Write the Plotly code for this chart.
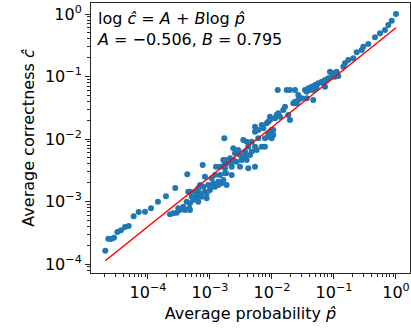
import numpy as np
import plotly.graph_objects as go

# Data, as log10 exponents of the axis values
log10_p = [
    -4.689, -4.640, -4.597, -4.548, -4.495, -4.435, -4.371, -4.311, -4.231, -4.150,
    -4.048, -3.952, -3.839, -3.710, -3.560, -3.366,
    -3.645, -3.592, -3.537, -3.484, -3.511, -3.431, -3.403, -3.323, -3.376, -3.323,
    -3.269, -3.189, -3.295, -3.215, -3.134, -3.323, -3.242, -3.161, -3.081, -3.000,
    -3.189, -3.108, -3.027, -2.947, -2.919, -2.866, -2.811, -2.731, -2.866, -2.785,
    -3.081, -2.973, -2.919, -2.839, -2.742, -3.118, -2.903, -2.769, -3.350, -3.053,
    -3.053, -2.973, -3.161, -2.758, -2.650, -3.334, -3.415,
    -2.839, -2.758, -2.650, -2.516, -2.274, -2.785, -2.731, -2.650, -2.569, -2.489,
    -2.677, -2.597, -2.516, -2.435, -2.355, -2.624, -2.544, -2.435, -2.327, -2.247,
    -2.382, -2.274, -2.166, -2.113, -2.463, -2.408, -2.327, -2.221, -2.113, -2.005,
    -2.769, -2.274, -2.060, -1.979, -2.274, -2.166, -2.140, -2.060, -2.032, -1.924,
    -2.624, -2.408, -2.382, -2.758,
    -2.085, -2.032, -1.952, -1.898, -1.871, -1.737, -1.710, -1.818, -1.790, -1.656,
    -1.602, -1.629, -1.576, -1.521, -1.440, -1.334, -1.576, -1.415, -1.360, -1.306,
    -1.253, -1.198, -1.145, -1.092, -1.037, -0.984, -1.065, -1.011, -0.956, -2.005,
    -1.979, -2.060, -2.221,
    -1.908, -1.763, -1.710, -1.629, -1.468, -1.387, -1.440, -1.334, -1.279,
    -0.931, -0.850, -0.823, -0.769, -0.689, -0.634, -0.553, -0.527, -0.447, -0.339,
    -0.258, -0.177, -0.124, -0.069, 0.000, -1.173, -1.118, -1.145,
]
log10_c = [
    -3.787, -3.595, -3.600, -3.579, -3.488, -3.461, -3.408, -3.392, -3.237, -3.168,
    -3.163, -3.109, -3.003, -2.917, -2.784, -2.565,
    -3.205, -3.189, -3.179, -3.136, -3.109, -3.083, -3.136, -3.136, -3.003, -3.029,
    -2.976, -3.003, -2.923, -2.923, -2.923, -2.843, -2.843, -2.869, -2.843, -2.816,
    -2.789, -2.763, -2.736, -2.709, -2.763, -2.736, -2.709, -2.736, -2.683, -2.656,
    -2.603, -2.629, -2.576, -2.576, -2.549, -2.416, -2.443, -2.416, -2.843, -2.949,
    -2.869, -2.763, -2.736, -2.549, -2.576, -3.109, -3.125,
    -2.443, -2.469, -2.443, -2.443, -2.443, -2.336, -2.389, -2.389, -2.363, -2.336,
    -2.309, -2.229, -2.256, -2.283, -2.256, -2.149, -2.176, -2.203, -2.203, -2.176,
    -2.123, -2.123, -2.123, -2.123, -2.016, -2.043, -2.043, -1.989, -1.989, -1.989,
    -1.989, -1.883, -1.909, -1.856, -1.803, -1.776, -1.829, -1.723, -1.643, -1.616,
    -2.336, -2.336, -2.469, -2.336,
    -1.749, -1.696, -1.669, -1.589, -1.643, -1.616, -1.696, -1.536, -1.483, -1.429,
    -1.429, -1.403, -1.376, -1.349, -1.349, -1.376, -1.296, -1.189, -1.163, -1.136,
    -1.109, -1.083, -1.056, -1.029, -1.003, -1.003, -0.923, -0.949, -0.923, -1.856,
    -1.936, -1.963, -1.856,
    -1.216, -1.216, -1.216, -1.216, -1.216, -1.216, -1.243, -1.216, -1.189,
    -0.992, -0.843, -0.789, -0.736, -0.709, -0.613, -0.576, -0.523, -0.480, -0.373,
    -0.309, -0.256, -0.176, -0.107, 0.000, -1.109, -1.056, -1.163,
]

A = -0.506
B = 0.795

x_tickvals = [1e-4, 1e-3, 1e-2, 1e-1, 1e0]
x_ticktext = ["10<sup>−4</sup>", "10<sup>−3</sup>", "10<sup>−2</sup>", "10<sup>−1</sup>", "10<sup>0</sup>"]
y_tickvals = [1e-4, 1e-3, 1e-2, 1e-1, 1e0]
y_ticktext = ["10<sup>−4</sup>", "10<sup>−3</sup>", "10<sup>−2</sup>", "10<sup>−1</sup>", "10<sup>0</sup>"]

p = 10 ** np.array(log10_p)
c = 10 ** np.array(log10_c)

# fitted line: log c = A + B log p (natural log)
p_line = np.array([p.min(), p.max()])
c_line = np.exp(A + B * np.log(p_line))

FONT = "DejaVu Sans"
FS = 16

fig = go.Figure()
fig.add_trace(go.Scatter(
    x=p, y=c, mode="markers",
    marker=dict(color="#1f77b4", size=6, line=dict(width=0)),
    showlegend=False,
))
fig.add_trace(go.Scatter(
    x=p_line, y=c_line, mode="lines",
    line=dict(color="red", width=1.5),
    showlegend=False,
))

axis_common = dict(
    type="log",
    showgrid=False, zeroline=False,
    showline=True, linecolor="#262626", linewidth=1, mirror=True,
    ticks="outside", ticklen=5, tickwidth=1, tickcolor="#262626",
    minor=dict(ticks="outside", ticklen=3, tickwidth=0.7, tickcolor="#262626",
               showgrid=False, dtick="D1"),
    tickfont=dict(family=FONT, size=FS, color="black"),
)

fig.update_layout(
    width=411, height=330,
    margin=dict(l=91, r=1, t=3, b=57),
    paper_bgcolor="white", plot_bgcolor="white",
    font=dict(family=FONT, size=FS, color="black"),
    xaxis=dict(
        range=[-4.919, 0.226],
        tickvals=x_tickvals, ticktext=x_ticktext,
        title=dict(text="Average probability <i>p̂</i>", font=dict(family=FONT, size=FS), standoff=6),
        **axis_common,
    ),
    yaxis=dict(
        range=[-4.144, 0.176],
        tickvals=y_tickvals, ticktext=y_ticktext,
        title=dict(text="Average correctness <i>ĉ</i>", font=dict(family=FONT, size=FS), standoff=6),
        **axis_common,
    ),
    annotations=[
        dict(
            xref="paper", yref="paper", x=0.012, y=0.985,
            xanchor="left", yanchor="top", align="left", showarrow=False,
            text="log <i>ĉ</i> = <i>A</i> + <i>B</i>log <i>p̂</i><br><i>A</i> = −0.506, <i>B</i> = 0.795",
            font=dict(family=FONT, size=FS, color="black"),
        )
    ],
)

fig.write_html("out.html")
